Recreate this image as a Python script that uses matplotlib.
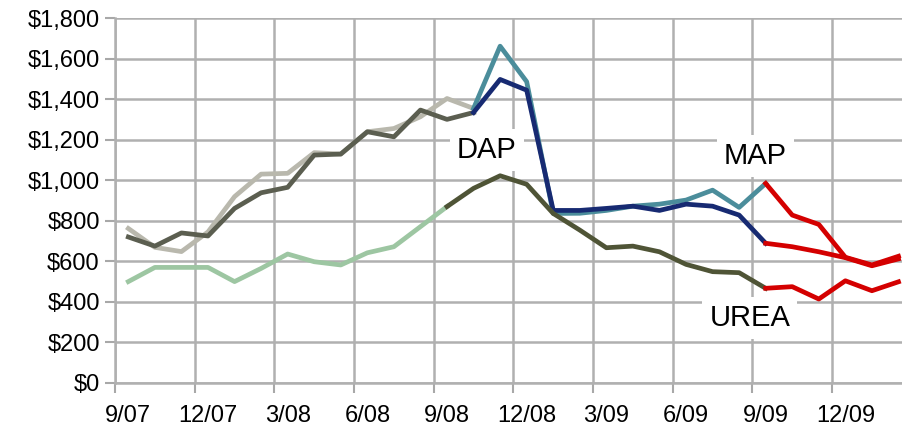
import numpy as np
import matplotlib
matplotlib.use("Agg")
import matplotlib.pyplot as plt
from matplotlib.ticker import FuncFormatter

plt.rcParams['font.family'] = ['Liberation Sans', 'DejaVu Sans']

" DATA "

months = ['9/07', '10/07', '11/07', '12/07', '1/08', '2/08', '3/08', '4/08', '5/08', '6/08',
          '7/08', '8/08', '9/08', '10/08', '11/08', '12/08', '1/09', '2/09', '3/09', '4/09',
          '5/09', '6/09', '7/09', '8/09', '9/09', '10/09', '11/09', '12/09', '1/10', '2/10']

# gray history, 9/07 - 10/08
dap_hist = [720, 675, 740, 725, 861, 938, 965, 1124, 1129, 1239, 1214, 1346, 1300, 1334]
map_hist = [762, 669, 648, 745, 919, 1030, 1034, 1136, 1129, 1239, 1255, 1313, 1403, 1354]
# light green urea history, 9/07 - 9/08
urea_hist = [500, 570, 570, 570, 500, 565, 636, 598, 582, 642, 672, 771, 870]

# recent, 10/08 - 9/09 (urea 9/08 - 9/09)
dap_recent = [1334, 1497, 1444, 851, 851, 861, 872, 851, 882, 872, 828, 689]
map_recent = [1354, 1661, 1486, 836, 837, 851, 872, 882, 902, 951, 866, 984]
urea_recent = [870, 960, 1022, 980, 836, 754, 667, 675, 647, 585, 549, 544, 467]

# forecast, 9/09 - 2/10
dap_fcst = [689, 672, 647, 618, 578, 612]
map_fcst = [984, 828, 782, 620, 582, 625]
urea_fcst = [467, 475, 414, 504, 455, 499]

x = np.arange(len(months))

fig = plt.figure(figsize=(9.03, 4.38), dpi=100)
ax = fig.add_axes([0.1274, 0.1256, 0.8823, 0.8333])

lw = 3.4
ax.plot(x[:len(map_hist)], map_hist, color='#b9b8ad', lw=lw, zorder=3)
ax.plot(x[:len(dap_hist)], dap_hist, color='#5b5e50', lw=lw, zorder=3)
ax.plot(x[:len(urea_hist)], urea_hist, color='#9dc6a2', lw=lw, zorder=3)

ax.plot(x[13:13 + len(map_recent)], map_recent, color='#4b8d9b', lw=lw, zorder=3)
ax.plot(x[13:13 + len(dap_recent)], dap_recent, color='#172a72', lw=lw, zorder=3)
ax.plot(x[12:12 + len(urea_recent)], urea_recent, color='#4f5436', lw=lw, zorder=3)

ax.plot(x[24:24 + len(dap_fcst)], dap_fcst, color='#d40000', lw=lw, zorder=3)
ax.plot(x[24:24 + len(map_fcst)], map_fcst, color='#d40000', lw=lw, zorder=3)
ax.plot(x[24:24 + len(urea_fcst)], urea_fcst, color='#d40000', lw=lw, zorder=3)

# series labels
box = dict(facecolor='white', edgecolor='none', pad=5)
ax.text(13.5, 1150, 'DAP', fontsize=21, ha='center', va='center', bbox=box, zorder=2.5)
ax.text(23.6, 1120, 'MAP', fontsize=21, ha='center', va='center', bbox=box, zorder=2.5)
ax.text(23.4, 320, 'UREA', fontsize=21, ha='center', va='center', bbox=box, zorder=2.5)

ax.set_xlim(-0.5, 29.5)
ax.set_ylim(0, 1800)
ax.set_yticks(np.arange(0, 1801, 200))
ax.yaxis.set_major_formatter(FuncFormatter(lambda v, p: f'${v:,.0f}'))

# gridlines between categories, labels on categories
ax.set_xticks(np.arange(-0.5, 30, 3))
ax.set_xticklabels([])
ax.set_xticks(x[::3], minor=True)
ax.set_xticklabels(months[::3], minor=True)
ax.tick_params(axis='x', which='major', length=7, width=1.5, color='#a8a8a8')
ax.tick_params(axis='x', which='minor', length=0, pad=16, labelsize=17)
ax.tick_params(axis='y', length=7, width=1.5, color='#a8a8a8', labelsize=17, pad=4)

ax.grid(True, which='major', color='#b0b0b0', lw=1.8)
ax.set_axisbelow(True)
for s in ['top', 'right']:
    ax.spines[s].set_visible(False)
ax.spines['left'].set_color('#b0b0b0')
ax.spines['left'].set_linewidth(1.8)
ax.spines['bottom'].set_color('#b0b0b0')
ax.spines['bottom'].set_linewidth(1.8)

fig.savefig('out.png', dpi=100)
